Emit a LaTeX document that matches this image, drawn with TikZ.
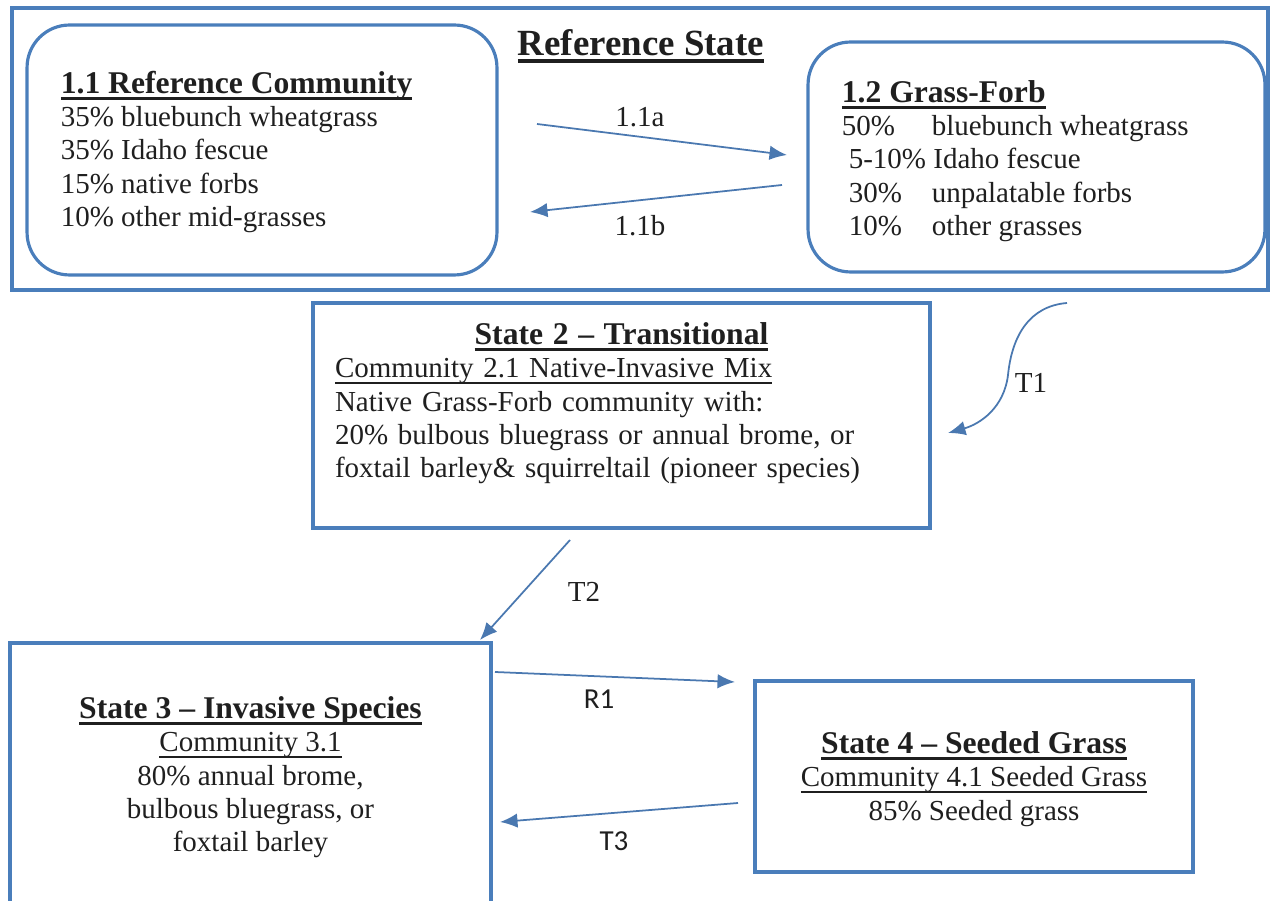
\documentclass[tikz,border=0pt]{standalone}
\usepackage{fontspec}
\setmainfont{Liberation Serif}
\newfontfamily\labelsans{Carlito}
\usetikzlibrary{positioning, arrows.meta}
\definecolor{boxblue}{HTML}{4A7EBB}
\definecolor{linkblue}{HTML}{4A78B0}
\newlength{\ulwidth}
\newcommand{\ulined}[2][0.05em]{\leavevmode\settowidth{\ulwidth}{#2}\rlap{\rule[-0.21em]{\ulwidth}{#1}}#2}
\newcommand{\boxtitle}[1]{{\fontsize{18}{19}\selectfont\bfseries\ulined[0.09em]{#1}}}

\begin{document}
\begin{tikzpicture}[x=0.02cm, y=-0.02cm,
     node distance = 3mm and 3mm,
  every node/.style = {font=\fontsize{16.5}{19}\selectfont, text=black!88},
      statebox/.style = {rectangle, draw=boxblue, line width=2.3pt},
       commbox/.style = {rectangle, rounded corners=0.85cm, draw=boxblue, line width=1.8pt},
      bodytext/.style = {inner sep=0pt, align=left},
         trans/.style = {draw=linkblue, line width=1pt, -{Latex[length=3.5mm, width=2.9mm]}},
      sanslabel/.style = {font=\labelsans\fontsize{16.5}{18}\selectfont}
                        ]
\useasboundingbox (0,0) rectangle (1274,901);
% reference state
\node (refstate) [statebox, minimum width=25.12cm, minimum height=5.64cm] at (640,149) {};
\node (reftitle) [font=\fontsize{21}{24}\selectfont\bfseries] at (641,46) {\ulined[0.1em]{Reference State}};
\node (comm11) [commbox, minimum width=9.4cm, minimum height=5cm] at (262,150) {};
\node (comm12) [commbox, minimum width=9.14cm, minimum height=4.6cm] at (1036.5,157) {};
\node (t11) [bodytext, right=0.7cm of comm11.west, yshift=-0.04cm] {\boxtitle{1.1 Reference Community}\\
  35\% bluebunch wheatgrass\\ 35\% Idaho fescue\\ 15\% native forbs\\ 10\% other mid-grasses};
\node (t12) [bodytext, right=0.7cm of comm12.west, yshift=-0.08cm] {\boxtitle{1.2 Grass-Forb}\\
  \makebox[1.8cm][l]{50\%}bluebunch wheatgrass\\
  \hspace{0.14cm}5-10\% Idaho fescue\\
  \hspace{0.14cm}\makebox[1.66cm][l]{30\%}unpalatable forbs\\
  \hspace{0.14cm}\makebox[1.66cm][l]{10\%}other grasses};
% other states
\node (state2) [statebox, minimum width=12.34cm, minimum height=4.5cm] at (621.5,415.5) {};
\node (t2) [bodytext, text width=11.46cm, below=0.42cm of state2.north]
  {\makebox[\linewidth]{\boxtitle{State 2 -- Transitional}}\\
  \ulined{Community 2.1 Native-Invasive Mix}\\
  Native Grass-Forb community with:\\
  20\% bulbous bluegrass or annual brome, or\\
  foxtail barley\& squirreltail (pioneer species)};
\node (state3) [statebox, minimum width=9.62cm, minimum height=5.6cm] at (250.5,783) {};
\node (t3) [bodytext, align=center, below=1.1cm of state3.north]
  {\boxtitle{State 3 -- Invasive Species}\\ \ulined{Community 3.1}\\
  80\% annual brome,\\ bulbous bluegrass, or\\ foxtail barley};
\node (state4) [statebox, minimum width=8.76cm, minimum height=3.82cm] at (974,776.5) {};
\node (t4) [bodytext, align=center, below=1.04cm of state4.north]
  {\boxtitle{State 4 -- Seeded Grass}\\ \ulined{Community 4.1 Seeded Grass}\\
  85\% Seeded grass};
% arrow ends
\coordinate (a1from) at (537,124);
\coordinate (a1to) at (787,155);
\coordinate (b1from) at (782,185);
\coordinate (b1to) at (530,212);
\coordinate (t1from) at (1067,303);
\coordinate (t1mid) at (1008,375);
\coordinate (t1to) at (948,433);
\coordinate (t2from) at (570,540);
\coordinate (t2to) at (480,640);
\coordinate (r1from) at (495,672);
\coordinate (r1to) at (735,682);
\coordinate (t3from) at (738,803);
\coordinate (t3to) at (500,822);
\draw[trans] (a1from) -- (a1to);
\draw[trans] (b1from) -- (b1to);
\draw[trans] (t1from) .. controls (1030,306) and (1012,335) .. (t1mid)
                      .. controls (1004,408) and (980,424) .. (t1to);
\draw[trans] (t2from) -- (t2to);
\draw[trans] (r1from) -- (r1to);
\draw[trans] (t3from) -- (t3to);
% labels
\node (l11a) at (640,117) {1.1a};
\node (l11b) at (640,226) {1.1b};
\node (lt1) at (1031,383) {T1};
\node (lt2) at (584,592) {T2};
\node (lr1) [sanslabel] at (599,699) {R1};
\node (lt3) [sanslabel] at (614,841) {T3};
\end{tikzpicture}
\end{document}
